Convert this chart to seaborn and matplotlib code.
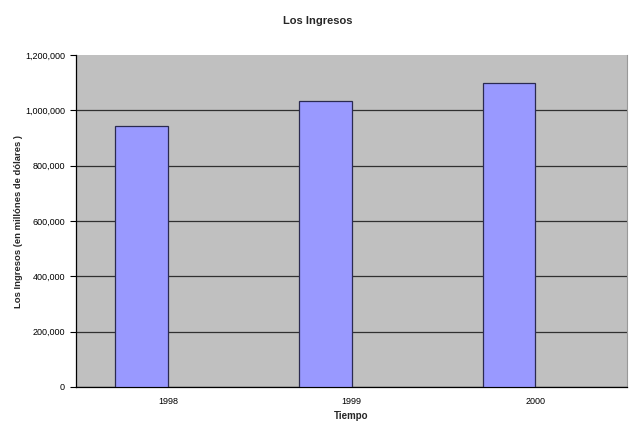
import matplotlib
matplotlib.use("Agg")
import matplotlib.pyplot as plt
import matplotlib.ticker as mticker
import seaborn as sns
import pandas as pd

years = ["1998", "1999", "2000"]
ingresos = [942000, 1032000, 1099000]
series_names = ["Ingresos", "Serie vacía"]
title = "Los Ingresos"
xlabel = "Tiempo"
ylabel = "Los Ingresos (en millónes de dólares )"
yticks = [0, 200000, 400000, 600000, 800000, 1000000, 1200000]

df = pd.DataFrame({"Año": years, "Valor": ingresos, "Serie": series_names[0]})

sns.set_theme(style="white")
plt.rcParams["font.family"] = ["Liberation Sans", "DejaVu Sans"]

fig = plt.figure(figsize=(6.38, 4.36), dpi=100)
ax = fig.add_axes([76/638, 1-387/436, (627-76)/638, (387-55)/436])
ax.set_facecolor("#C0C0C0")

sns.barplot(data=df, x="Año", y="Valor", hue="Serie", hue_order=series_names,
            order=years, width=0.5714, dodge=True, saturation=1,
            palette=["#9999FF", "#9999FF"], edgecolor="#2A2A50", linewidth=0.9,
            legend=False, ax=ax, zorder=3)

ax.set_xlim(-0.5, 2.5)
ax.set_ylim(0, 1200000)
ax.set_yticks(yticks)
ax.yaxis.set_major_formatter(mticker.FuncFormatter(lambda v, p: f"{int(v):,}"))
ax.yaxis.grid(True, color="#303030", linewidth=0.9, zorder=1)
ax.set_axisbelow(True)

ax.set_xticks([-0.5, 0.5, 1.5, 2.5])
ax.set_xticklabels([])
ax.set_xticks([0, 1, 2], minor=True)
ax.set_xticklabels(years, minor=True)
ax.tick_params(axis="x", which="minor", length=0, pad=7, labelsize=6.5, labelcolor="#000000")
ax.tick_params(axis="x", which="major", length=4, width=0.8, color="#000000", direction="out")
ax.tick_params(axis="y", length=4, width=0.8, color="#000000", direction="out",
               labelsize=6.5, pad=4, left=True, labelcolor="#000000")

for s in ["left", "bottom"]:
    ax.spines[s].set_color("#000000")
    ax.spines[s].set_linewidth(0.9)
ax.spines["top"].set_visible(False)
ax.spines["right"].set_color("#999999")
ax.spines["right"].set_linewidth(0.8)

ax.set_xlabel(xlabel, fontsize=7, fontweight="bold")
ax.set_ylabel(ylabel, fontsize=6.8, fontweight="bold")
ax.xaxis.set_label_coords(0.5, -(411 - 387) / 332)
ax.yaxis.set_label_coords((23 - 76) / 551, 0.5)
fig.text(318/638, 1-21/436, title, fontsize=8, fontweight="bold", ha="center", va="center")

fig.canvas.draw()
ax.yaxis.get_gridlines()[-1].set_visible(False)

fig.savefig("out.png", dpi=100, facecolor="white")
